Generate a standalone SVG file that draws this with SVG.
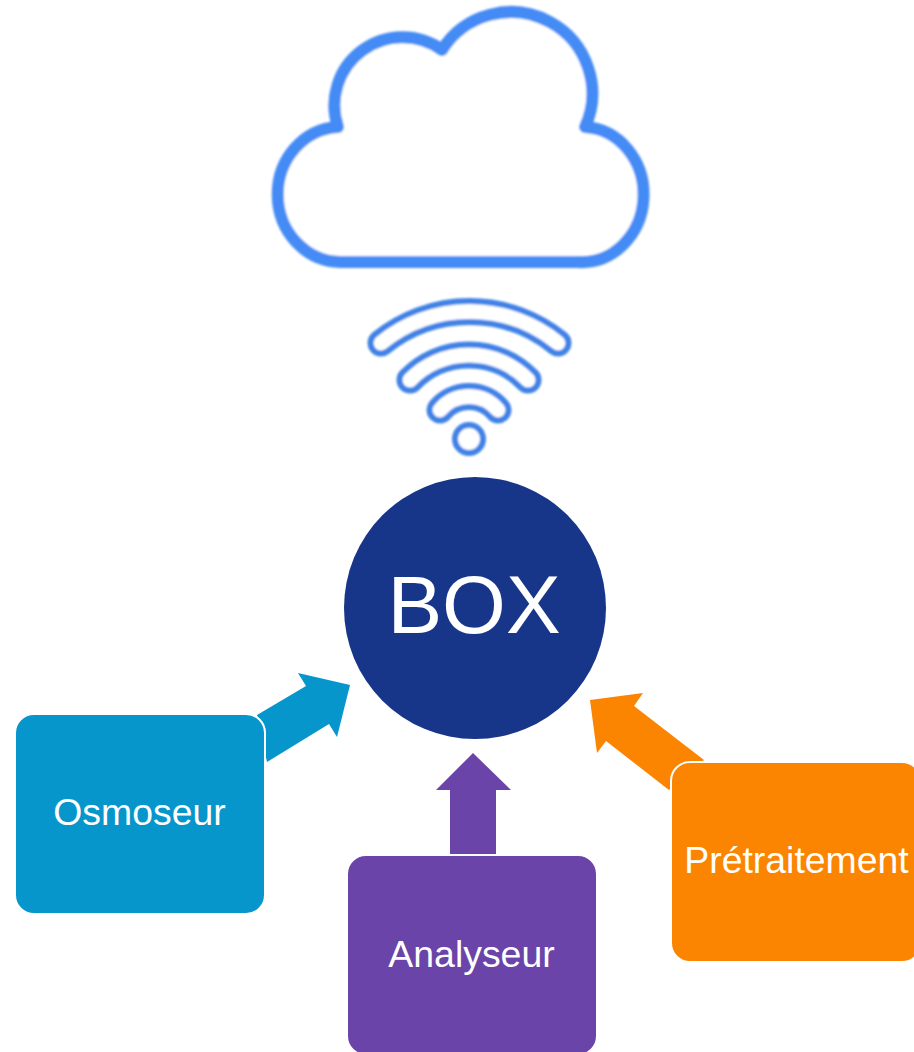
<svg xmlns="http://www.w3.org/2000/svg" width="914" height="1052" viewBox="0 0 914 1052">
<style>
text{font-family:"Liberation Sans",Arial,sans-serif;fill:#fff;text-anchor:middle}
.lbl{font-size:37.4px}
.box{stroke:#fff;stroke-width:2}
.band{fill:none;stroke-linecap:round}
.bo{stroke:#3f82e6;stroke-width:27}
.bi{stroke:#fff;stroke-width:15}
</style>
<defs><filter id="soft" filterUnits="userSpaceOnUse" x="240" y="0" width="440" height="470"><feGaussianBlur stdDeviation="0.8"/></filter></defs>
<rect width="914" height="1052" fill="#fff"/>
<g id="connectors">
<polygon fill="#0696CB" points="350,685 298,673 306,686 257,715 267,762 329,724 337,737"/>
<polygon fill="#6A44A8" points="473,753 436,790 450,790 450,854 496,854 496,790 511,790"/>
<polygon fill="#FB8500" points="590,700 643,693 634,706 704,760 669,790 606,741 597,753"/>
</g>
<g id="cloud" filter="url(#soft)"><path fill="#fff" stroke="#458BF5" stroke-width="12" stroke-linejoin="round" d="M340 262A63.500 67.550 0 0 1 338 127A68 68 0 0 1 442 50A81.400 81.400 0 0 1 585 127A62 67.550 0 0 1 578 262Z"/></g>
<g id="wifi" filter="url(#soft)">
<path class="band bo" d="M381 343A140 140 0 0 1 558 343"/><path class="band bi" d="M381 343A140 140 0 0 1 558 343"/>
<path class="band bo" d="M410 380A82 82 0 0 1 528 380"/><path class="band bi" d="M410 380A82 82 0 0 1 528 380"/>
<path class="band bo" d="M440 410A38 38 0 0 1 498 410"/><path class="band bi" d="M440 410A38 38 0 0 1 498 410"/>
<circle cx="469" cy="439" r="14" fill="#fff" stroke="#3f82e6" stroke-width="6"/>
</g>
<g id="box"><circle cx="475" cy="608" r="131" fill="#17368A"/><text x="474" y="633" font-size="82">BOX</text></g>
<g id="osmoseur"><rect class="box" x="15" y="714" width="250" height="200" rx="19" fill="#0696CB"/><text class="lbl" x="139.500" y="825">Osmoseur</text></g>
<g id="analyseur"><rect class="box" x="347" y="855" width="250" height="200" rx="19" fill="#6A44A8"/><text class="lbl" x="471.500" y="967">Analyseur</text></g>
<g id="pretraitement"><rect class="box" x="671" y="762" width="250" height="200" rx="19" fill="#FB8500"/><text class="lbl" x="796.500" y="873">Prétraitement</text></g>
</svg>
